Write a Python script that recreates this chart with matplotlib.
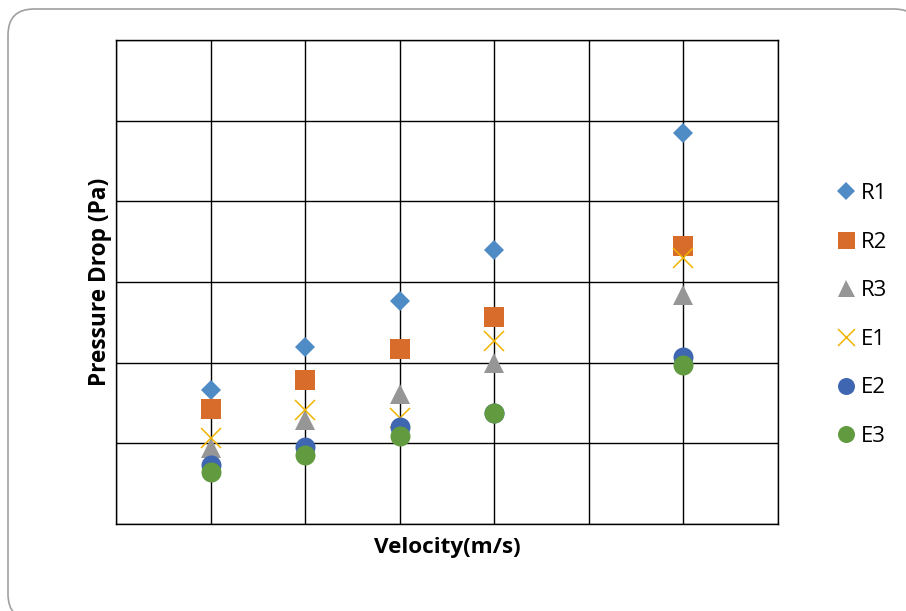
import matplotlib
matplotlib.use("Agg")
import matplotlib.pyplot as plt
from matplotlib.patches import FancyBboxPatch

plt.rcParams['font.family'] = ['Open Sans', 'DejaVu Sans']

# Velocity positions of each measurement
velocity = [1, 2, 3, 4, 6]

# Pressure drop series
R1 = [1.66, 2.19, 2.76, 3.40, 4.85]
R2 = [1.43, 1.79, 2.17, 2.57, 3.45]
R3 = [0.94, 1.29, 1.61, 2.00, 2.84]
E1 = [1.07, 1.41, 1.31, 2.27, 3.30]
E2 = [0.73, 0.95, 1.20, 1.38, 2.07]
E3 = [0.64, 0.855, 1.09, 1.38, 1.97]

series_names = ["R1", "R2", "R3", "E1", "E2", "E3"]
series_values = [R1, R2, R3, E1, E2, E3]
styles = {
    "R1": dict(marker="D", color="#4f8bc4", ms=10.2),
    "R2": dict(marker="s", color="#d86c2b", ms=14.4),
    "R3": dict(marker="^", color="#969696", ms=14.4),
    "E1": dict(marker="x", color="#f0b400", ms=14.4, mew=1.1),
    "E2": dict(marker="o", color="#3f67b1", ms=14.4),
    "E3": dict(marker="o", color="#629b3f", ms=14.4),
}

W, H = 906, 611
fig = plt.figure(figsize=(W / 100, H / 100), dpi=100)

# background layer in pixel units for the rounded chart-area frame
bg = fig.add_axes([0, 0, 1, 1], zorder=-10)
bg.set_xlim(0, W)
bg.set_ylim(H, 0)
bg.axis("off")
frame = FancyBboxPatch((8, 9), 920 - 8, 620 - 9,
                       boxstyle="round,pad=0,rounding_size=26",
                       facecolor="white", edgecolor="#a0a0a0", linewidth=1.2,
                       mutation_aspect=1)
bg.add_patch(frame)

ax = fig.add_axes([116 / W, (H - 524) / H, (778 - 116) / W, (524 - 40) / H])
ax.set_facecolor("none")
ax.set_xlim(0, 7)
ax.set_ylim(0, 6)
ax.set_xticks(range(0, 8))
ax.set_yticks(range(0, 7))
ax.tick_params(length=0, labelbottom=False, labelleft=False)
ax.grid(True, color="black", linewidth=1.0)
ax.set_axisbelow(True)
for sp in ax.spines.values():
    sp.set_color("black")
    sp.set_linewidth(1.0)

for name, vals in zip(series_names, series_values):
    st = styles[name]
    ax.plot(velocity, vals, linestyle="none", marker=st["marker"],
            color=st["color"], markersize=st["ms"],
            markeredgewidth=st.get("mew", 0), label=name, zorder=3)

ax.set_xlabel("Velocity(m/s)", fontsize=16.2, fontweight="bold", labelpad=9)
ax.set_ylabel("Pressure Drop (Pa)", fontsize=16.3, fontweight="bold", labelpad=3)

leg = ax.legend(loc="center left", bbox_to_anchor=(824 / W, 1 - 315 / H),
                bbox_transform=fig.transFigure, frameon=False,
                fontsize=16, handlelength=1.0, handletextpad=0.15,
                labelspacing=1.24, markerscale=0.85, borderpad=0)

fig.savefig("out.png", dpi=100)
